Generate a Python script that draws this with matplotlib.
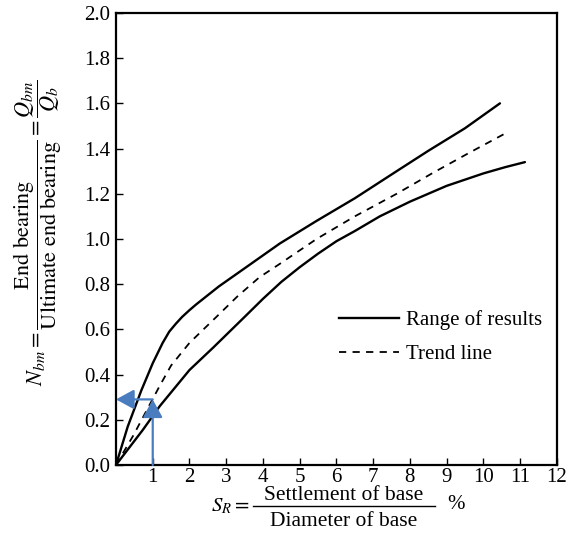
import matplotlib
matplotlib.use("Agg")
import matplotlib.pyplot as plt
from matplotlib.lines import Line2D

plt.rcParams['font.family'] = ['Liberation Serif', 'DejaVu Serif']
plt.rcParams['mathtext.fontset'] = 'stix'

# curves (settlement % vs N_bm)
upper_x = [0, 0.32, 0.69, 1.0, 1.27, 1.45, 1.63, 1.8, 2.0, 2.18, 2.8, 3.5, 4.46, 5.46, 6.5, 7.64, 8.5, 9.5, 10.45]
upper_y = [0, 0.17, 0.33, 0.45, 0.54, 0.59, 0.625, 0.655, 0.685, 0.71, 0.79, 0.87, 0.98, 1.08, 1.18, 1.30, 1.39, 1.49, 1.60]

trend_x = [0, 0.47, 0.83, 1.19, 1.5, 2.0, 2.7, 3.3, 3.9, 4.46, 5.46, 6.5, 7.64, 8.6, 9.6, 10.63]
trend_y = [0, 0.13, 0.24, 0.35, 0.44, 0.54, 0.65, 0.745, 0.83, 0.89, 1.0, 1.10, 1.20, 1.29, 1.38, 1.47]

lower_x = [0, 0.73, 1.19, 2.0, 2.65, 3.5, 4.0, 4.5, 5.0, 5.5, 6.0, 6.5, 7.18, 8.0, 9.0, 10.0, 10.6, 11.13]
lower_y = [0, 0.155, 0.26, 0.42, 0.52, 0.655, 0.735, 0.81, 0.875, 0.935, 0.99, 1.035, 1.10, 1.165, 1.235, 1.29, 1.318, 1.34]

# worked example arrow: S_R = 1 %  ->  N_bm = 0.29
ex_x = 1.0
ex_y = 0.29

xticks = list(range(1, 13))
yticks = [0.0, 0.2, 0.4, 0.6, 0.8, 1.0, 1.2, 1.4, 1.6, 1.8, 2.0]

fig = plt.figure(figsize=(5.7, 5.4), dpi=100)
ax = fig.add_axes([0.2035, 0.139, 0.7735, 0.837])

ax.plot(upper_x, upper_y, color='black', lw=1.7, solid_capstyle='round', solid_joinstyle='round')
ax.plot(lower_x, lower_y, color='black', lw=1.7, solid_capstyle='round', solid_joinstyle='round')
ax.plot(trend_x, trend_y, color='black', lw=1.3, dashes=(4, 3.5))

blue = '#4a7dbf'
head = '-|>,head_length=1.1,head_width=0.6'
ax.annotate('', xy=(ex_x, ex_y), xytext=(ex_x, 0),
            arrowprops=dict(arrowstyle=head, color=blue, lw=1.6, shrinkA=0, shrinkB=0))
ax.annotate('', xy=(0, ex_y), xytext=(ex_x, ex_y),
            arrowprops=dict(arrowstyle=head, color=blue, lw=1.6, shrinkA=0, shrinkB=0))

ax.set_xlim(0, 12)
ax.set_ylim(0, 2.0)
ax.set_xticks(xticks)
ax.set_xticklabels([str(t) for t in xticks])
ax.set_yticks(yticks)
ax.set_yticklabels([f'{t:.1f}' for t in yticks])
ax.tick_params(direction='in', length=5, width=1, labelsize=15, pad=4)
ax.tick_params(axis='x', pad=2)
for s in ax.spines.values():
    s.set_linewidth(1.6)

handles = [Line2D([], [], color='black', lw=1.7),
           Line2D([], [], color='black', lw=1.3, dashes=(4, 3.5))]
ax.legend(handles, ['Range of results', 'Trend line'], loc='upper left',
          bbox_to_anchor=(0.505, 0.342), frameon=False, fontsize=15,
          handlelength=2.9, handletextpad=0.35, labelspacing=0.7, borderpad=0,
          borderaxespad=0)

# y label
fig.text(0.066, 0.570,
         r'$N_{bm} = \dfrac{\mathrm{End\ bearing}}{\mathrm{Ultimate\ end\ bearing}} = \dfrac{Q_{bm}}{Q_b}$',
         rotation=90, ha='center', va='center', fontsize=16)

# x label, built as a fraction by hand
fig.text(0.4386, 0.063, r'$S_R =$', ha='right', va='center', fontsize=15)
fig.text(0.6035, 0.0745, 'Settlement of base', ha='center', va='baseline', fontsize=15.5)
fig.add_artist(Line2D([0.444, 0.763], [0.063, 0.063], color='black', lw=1.0,
                      transform=fig.transFigure))
fig.text(0.6035, 0.025, 'Diameter of base', ha='center', va='baseline', fontsize=15.5)
fig.text(0.784, 0.066, '%', ha='left', va='center', fontsize=15)

fig.savefig('out.png', dpi=100)
